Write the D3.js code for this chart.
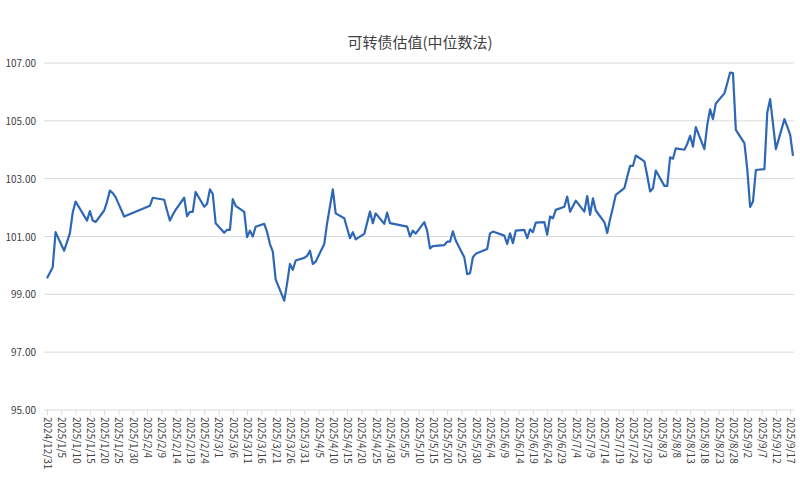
<!DOCTYPE html>
<html><head><meta charset="utf-8">
<script src="https://cdn.jsdelivr.net/npm/d3@7"></script>
<style>body{margin:0;background:#fff}svg{font-family:"Noto Sans CJK SC","Noto Sans",sans-serif}</style>
</head><body>
<svg id="c" width="800" height="489"></svg>
<script>
const title = "可转债估值(中位数法)";
const dates = ["2024-12-31","2025-01-02","2025-01-03","2025-01-06","2025-01-08","2025-01-09","2025-01-10","2025-01-14","2025-01-15","2025-01-16","2025-01-17","2025-01-20","2025-01-21","2025-01-22","2025-01-23","2025-01-24","2025-01-27",
"2025-02-05","2025-02-06","2025-02-10","2025-02-11","2025-02-12","2025-02-13","2025-02-14","2025-02-17","2025-02-18","2025-02-19","2025-02-20","2025-02-21","2025-02-24","2025-02-25","2025-02-26","2025-02-27","2025-02-28",
"2025-03-03","2025-03-04","2025-03-05","2025-03-06","2025-03-07","2025-03-10","2025-03-11","2025-03-12","2025-03-13","2025-03-14","2025-03-17","2025-03-18","2025-03-19","2025-03-20","2025-03-21","2025-03-24","2025-03-25","2025-03-26","2025-03-27","2025-03-28","2025-03-31",
"2025-04-01","2025-04-02","2025-04-03","2025-04-04","2025-04-07","2025-04-08","2025-04-10","2025-04-11","2025-04-14","2025-04-16","2025-04-17","2025-04-18","2025-04-21","2025-04-23","2025-04-24","2025-04-25","2025-04-28","2025-04-29","2025-04-30",
"2025-05-06","2025-05-07","2025-05-08","2025-05-09","2025-05-12","2025-05-13","2025-05-14","2025-05-15","2025-05-19","2025-05-20","2025-05-21","2025-05-22","2025-05-23","2025-05-26","2025-05-27","2025-05-28","2025-05-29","2025-05-30",
"2025-06-03","2025-06-04","2025-06-05","2025-06-09","2025-06-10","2025-06-11","2025-06-12","2025-06-13","2025-06-16","2025-06-17","2025-06-18","2025-06-19","2025-06-20","2025-06-23","2025-06-24","2025-06-25","2025-06-26","2025-06-27","2025-06-30",
"2025-07-01","2025-07-02","2025-07-03","2025-07-04","2025-07-07","2025-07-08","2025-07-09","2025-07-10","2025-07-11","2025-07-14","2025-07-15","2025-07-16","2025-07-17","2025-07-18","2025-07-21","2025-07-22","2025-07-23","2025-07-24","2025-07-25","2025-07-28","2025-07-29","2025-07-30","2025-07-31",
"2025-08-01","2025-08-04","2025-08-05","2025-08-06","2025-08-07","2025-08-08","2025-08-11","2025-08-12","2025-08-13","2025-08-14","2025-08-15","2025-08-18","2025-08-19","2025-08-20","2025-08-21","2025-08-22","2025-08-25","2025-08-26","2025-08-27","2025-08-28","2025-08-29",
"2025-09-01","2025-09-02","2025-09-03","2025-09-04","2025-09-05","2025-09-08","2025-09-09","2025-09-10","2025-09-11","2025-09-12","2025-09-15","2025-09-16","2025-09-17","2025-09-18"];
const values = [99.56,99.94,101.15,100.51,101.11,101.83,102.21,101.55,101.88,101.55,101.5,101.9,102.2,102.59,102.5,102.36,101.69,
102.06,102.34,102.27,101.9,101.55,101.75,101.92,102.34,101.7,101.85,101.85,102.54,102.03,102.13,102.63,102.47,101.46,
101.13,101.23,101.23,102.29,102.06,101.85,100.98,101.2,101.0,101.34,101.44,101.16,100.74,100.48,99.52,98.78,99.38,100.05,99.85,100.17,100.26,
100.33,100.51,100.05,100.13,100.74,101.46,102.63,101.8,101.63,100.94,101.15,100.9,101.09,101.86,101.46,101.8,101.44,101.83,101.46,
101.34,101.0,101.2,101.1,101.5,101.2,100.59,100.67,100.7,100.82,100.82,101.18,100.86,100.28,99.7,99.73,100.28,100.4,
100.57,101.11,101.17,101.03,100.74,101.11,100.77,101.2,101.23,100.94,101.25,101.15,101.48,101.5,101.06,101.69,101.63,101.92,102.03,
102.38,101.86,102.05,102.24,101.86,102.4,101.75,102.32,101.9,101.5,101.12,101.6,102.0,102.44,102.67,103.07,103.44,103.44,103.8,103.6,103.1,102.56,102.67,103.28,102.75,
102.75,103.74,103.69,104.05,104.0,104.2,104.48,104.11,104.78,104.02,104.86,105.4,105.06,105.6,105.95,106.3,106.67,106.65,104.69,104.23,103.33,
102.02,102.21,103.3,103.33,105.29,105.75,104.9,104.02,105.06,104.8,104.52,103.79,103.44,102.36];
const yTicks = [95,97,99,101,103,105,107];

const parse = d3.timeParse("%Y-%m-%d");
const data = dates.map((d,i)=>({d:parse(d),v:values[i]}));
const svg = d3.select("#c");
const x0 = parse("2024-12-31"), x1 = parse("2025-09-18");
const x = d3.scaleTime().domain([x0,x1]).range([47,793]);
const y = d3.scaleLinear().domain([95,107]).range([410,63]);

svg.append("text").attr("x",420).attr("y",48).attr("text-anchor","middle")
  .attr("font-size",15).attr("fill","#404040").text(title);

svg.append("g").selectAll("line").data(yTicks.slice(1)).join("line")
  .attr("x1",44).attr("x2",794).attr("y1",d=>y(d)).attr("y2",d=>y(d))
  .attr("stroke","#d9d9d9").attr("stroke-width",1);
svg.append("g").selectAll("text").data(yTicks).join("text")
  .attr("x",36).attr("y",d=>y(d)+4).attr("text-anchor","end")
  .attr("font-size",10).attr("fill","#404040").text(d=>d.toFixed(2));

const tickDates = d3.timeDay.range(x0, d3.timeDay.offset(x1,1), 5);
const xa = svg.append("g").attr("transform","translate(0,410)")
  .call(d3.axisBottom(x).tickValues(tickDates).tickSize(5).tickFormat(d3.timeFormat("%Y/%-m/%-d")));
xa.select(".domain").attr("stroke","#d9d9d9").attr("d","M44,0H794");
xa.selectAll(".tick line").attr("stroke","#d9d9d9");
xa.selectAll(".tick text").attr("font-size",10).attr("fill","#404040")
  .attr("font-family","Noto Sans CJK SC, Noto Sans, sans-serif")
  .attr("transform","rotate(90)").attr("text-anchor","start")
  .attr("x",7).attr("y",0).attr("dy","0.35em");

svg.append("path").datum(data)
  .attr("d",d3.line().x(d=>x(d.d)).y(d=>y(d.v)))
  .attr("fill","none").attr("stroke","#2e67b5").attr("stroke-width",2.2)
  .attr("stroke-linejoin","round");
</script>
</body></html>
